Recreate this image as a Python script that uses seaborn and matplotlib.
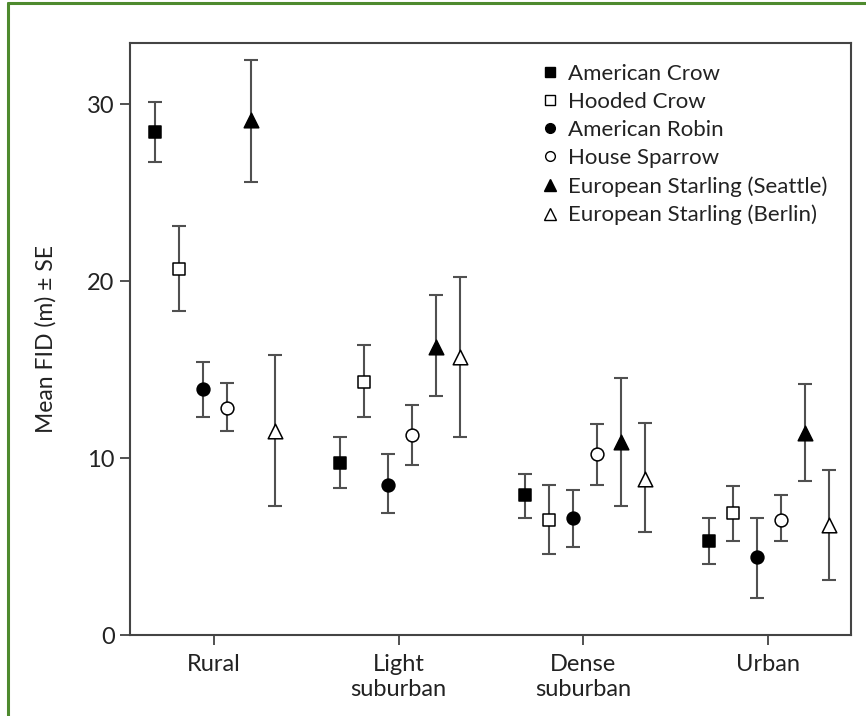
import numpy as np
import pandas as pd
import matplotlib
matplotlib.use("Agg")
import matplotlib.pyplot as plt
import seaborn as sns
from matplotlib.lines import Line2D

# ---- data ----
categories = ["Rural", "Light\nsuburban", "Dense\nsuburban", "Urban"]
species = ["American Crow", "Hooded Crow", "American Robin", "House Sparrow",
           "European Starling (Seattle)", "European Starling (Berlin)"]

american_crow_mean = [28.4, 9.7, 7.9, 5.3]
american_crow_lo = [26.7, 8.3, 6.6, 4.0]
american_crow_hi = [30.1, 11.2, 9.1, 6.6]

hooded_crow_mean = [20.7, 14.3, 6.5, 6.9]
hooded_crow_lo = [18.3, 12.3, 4.6, 5.3]
hooded_crow_hi = [23.1, 16.4, 8.5, 8.4]

american_robin_mean = [13.9, 8.5, 6.6, 4.4]
american_robin_lo = [12.3, 6.9, 5.0, 2.1]
american_robin_hi = [15.4, 10.2, 8.2, 6.6]

house_sparrow_mean = [12.8, 11.3, 10.2, 6.5]
house_sparrow_lo = [11.5, 9.6, 8.5, 5.3]
house_sparrow_hi = [14.25, 13.0, 11.9, 7.9]

starling_seattle_mean = [29.1, 16.3, 10.9, 11.4]
starling_seattle_lo = [25.6, 13.5, 7.3, 8.7]
starling_seattle_hi = [32.5, 19.2, 14.5, 14.2]

starling_berlin_mean = [11.5, 15.7, 8.8, 6.2]
starling_berlin_lo = [7.3, 11.2, 5.8, 3.1]
starling_berlin_hi = [15.8, 20.2, 12.0, 9.3]

y_ticks = [0, 10, 20, 30]

means = [american_crow_mean, hooded_crow_mean, american_robin_mean,
         house_sparrow_mean, starling_seattle_mean, starling_berlin_mean]
los = [american_crow_lo, hooded_crow_lo, american_robin_lo,
       house_sparrow_lo, starling_seattle_lo, starling_berlin_lo]
his = [american_crow_hi, hooded_crow_hi, american_robin_hi,
       house_sparrow_hi, starling_seattle_hi, starling_berlin_hi]

rows = []
for si, sp in enumerate(species):
    for ci, cat in enumerate(categories):
        rows.append(dict(species=sp, sidx=si, category=cat, cidx=ci,
                         mean=means[si][ci], lo=los[si][ci], hi=his[si][ci]))
df = pd.DataFrame(rows)
df["x"] = df["cidx"] + (df["sidx"] - 2.5) * 0.13 + 0.007

# ---- style ----
sns.set_style("ticks")
plt.rcParams["font.family"] = ["Lato", "DejaVu Sans"]
TXT = "#222222"

markers = ["s", "s", "o", "o", "^", "^"]
faces = ["black", "white", "black", "white", "black", "white"]
sizes = [75, 75, 85, 85, 110, 110]

fig = plt.figure(figsize=(8.66, 7.16), dpi=100)
ax = fig.add_axes([130 / 866, (716 - 635) / 716, (851 - 130) / 866, (635 - 43) / 716])

for si, sp in enumerate(species):
    sub = df[df["species"] == sp]
    ax.errorbar(sub["x"], sub["mean"],
                yerr=[sub["mean"] - sub["lo"], sub["hi"] - sub["mean"]],
                fmt="none", ecolor="#505050", elinewidth=1.5, capsize=5,
                capthick=1.5, zorder=2)
    sns.scatterplot(data=sub, x="x", y="mean", marker=markers[si],
                    color=faces[si], edgecolor="black", linewidth=1.1,
                    s=sizes[si], ax=ax, zorder=3, legend=False)

ax.set_xlim(-0.455, 3.449)
ax.set_ylim(0, 33.45)
ax.set_xticks(range(len(categories)))
ax.set_xticklabels(categories, fontsize=17, linespacing=1.2, color=TXT)
ax.set_yticks(y_ticks)
ax.set_yticklabels([str(t) for t in y_ticks], fontsize=17, color=TXT)
ax.set_xlabel("")
ax.set_ylabel("Mean FID (m) ± SE", fontsize=16.5, labelpad=22, color=TXT)
ax.tick_params(axis="both", direction="out", length=7, width=1.2, color="#333333", pad=4)
ax.tick_params(axis="x", pad=7)
for sp in ax.spines.values():
    sp.set_visible(True)
    sp.set_linewidth(1.5)
    sp.set_color("#444444")

handles = [Line2D([], [], linestyle="none", marker=markers[i], markerfacecolor=faces[i],
                  markeredgecolor="black", markeredgewidth=1.0,
                  markersize=7 if markers[i] != "^" else 8)
           for i in range(len(species))]
leg = ax.legend(handles, species, loc="upper right", bbox_to_anchor=(0.995, 0.998),
                frameon=False, fontsize=16, handlelength=0.7, handletextpad=0.45,
                labelspacing=0.36, borderaxespad=0.5)
for t in leg.get_texts():
    t.set_color(TXT)

# green frame (top and left edges)
fig.add_artist(Line2D([8 / 866, 1.0], [1 - 3 / 716, 1 - 3 / 716],
                      transform=fig.transFigure, color="#4e8a2e", linewidth=2.2))
fig.add_artist(Line2D([8 / 866, 8 / 866], [0.0, 1 - 3 / 716],
                      transform=fig.transFigure, color="#4e8a2e", linewidth=2.2))

fig.savefig("out.png", dpi=100)
